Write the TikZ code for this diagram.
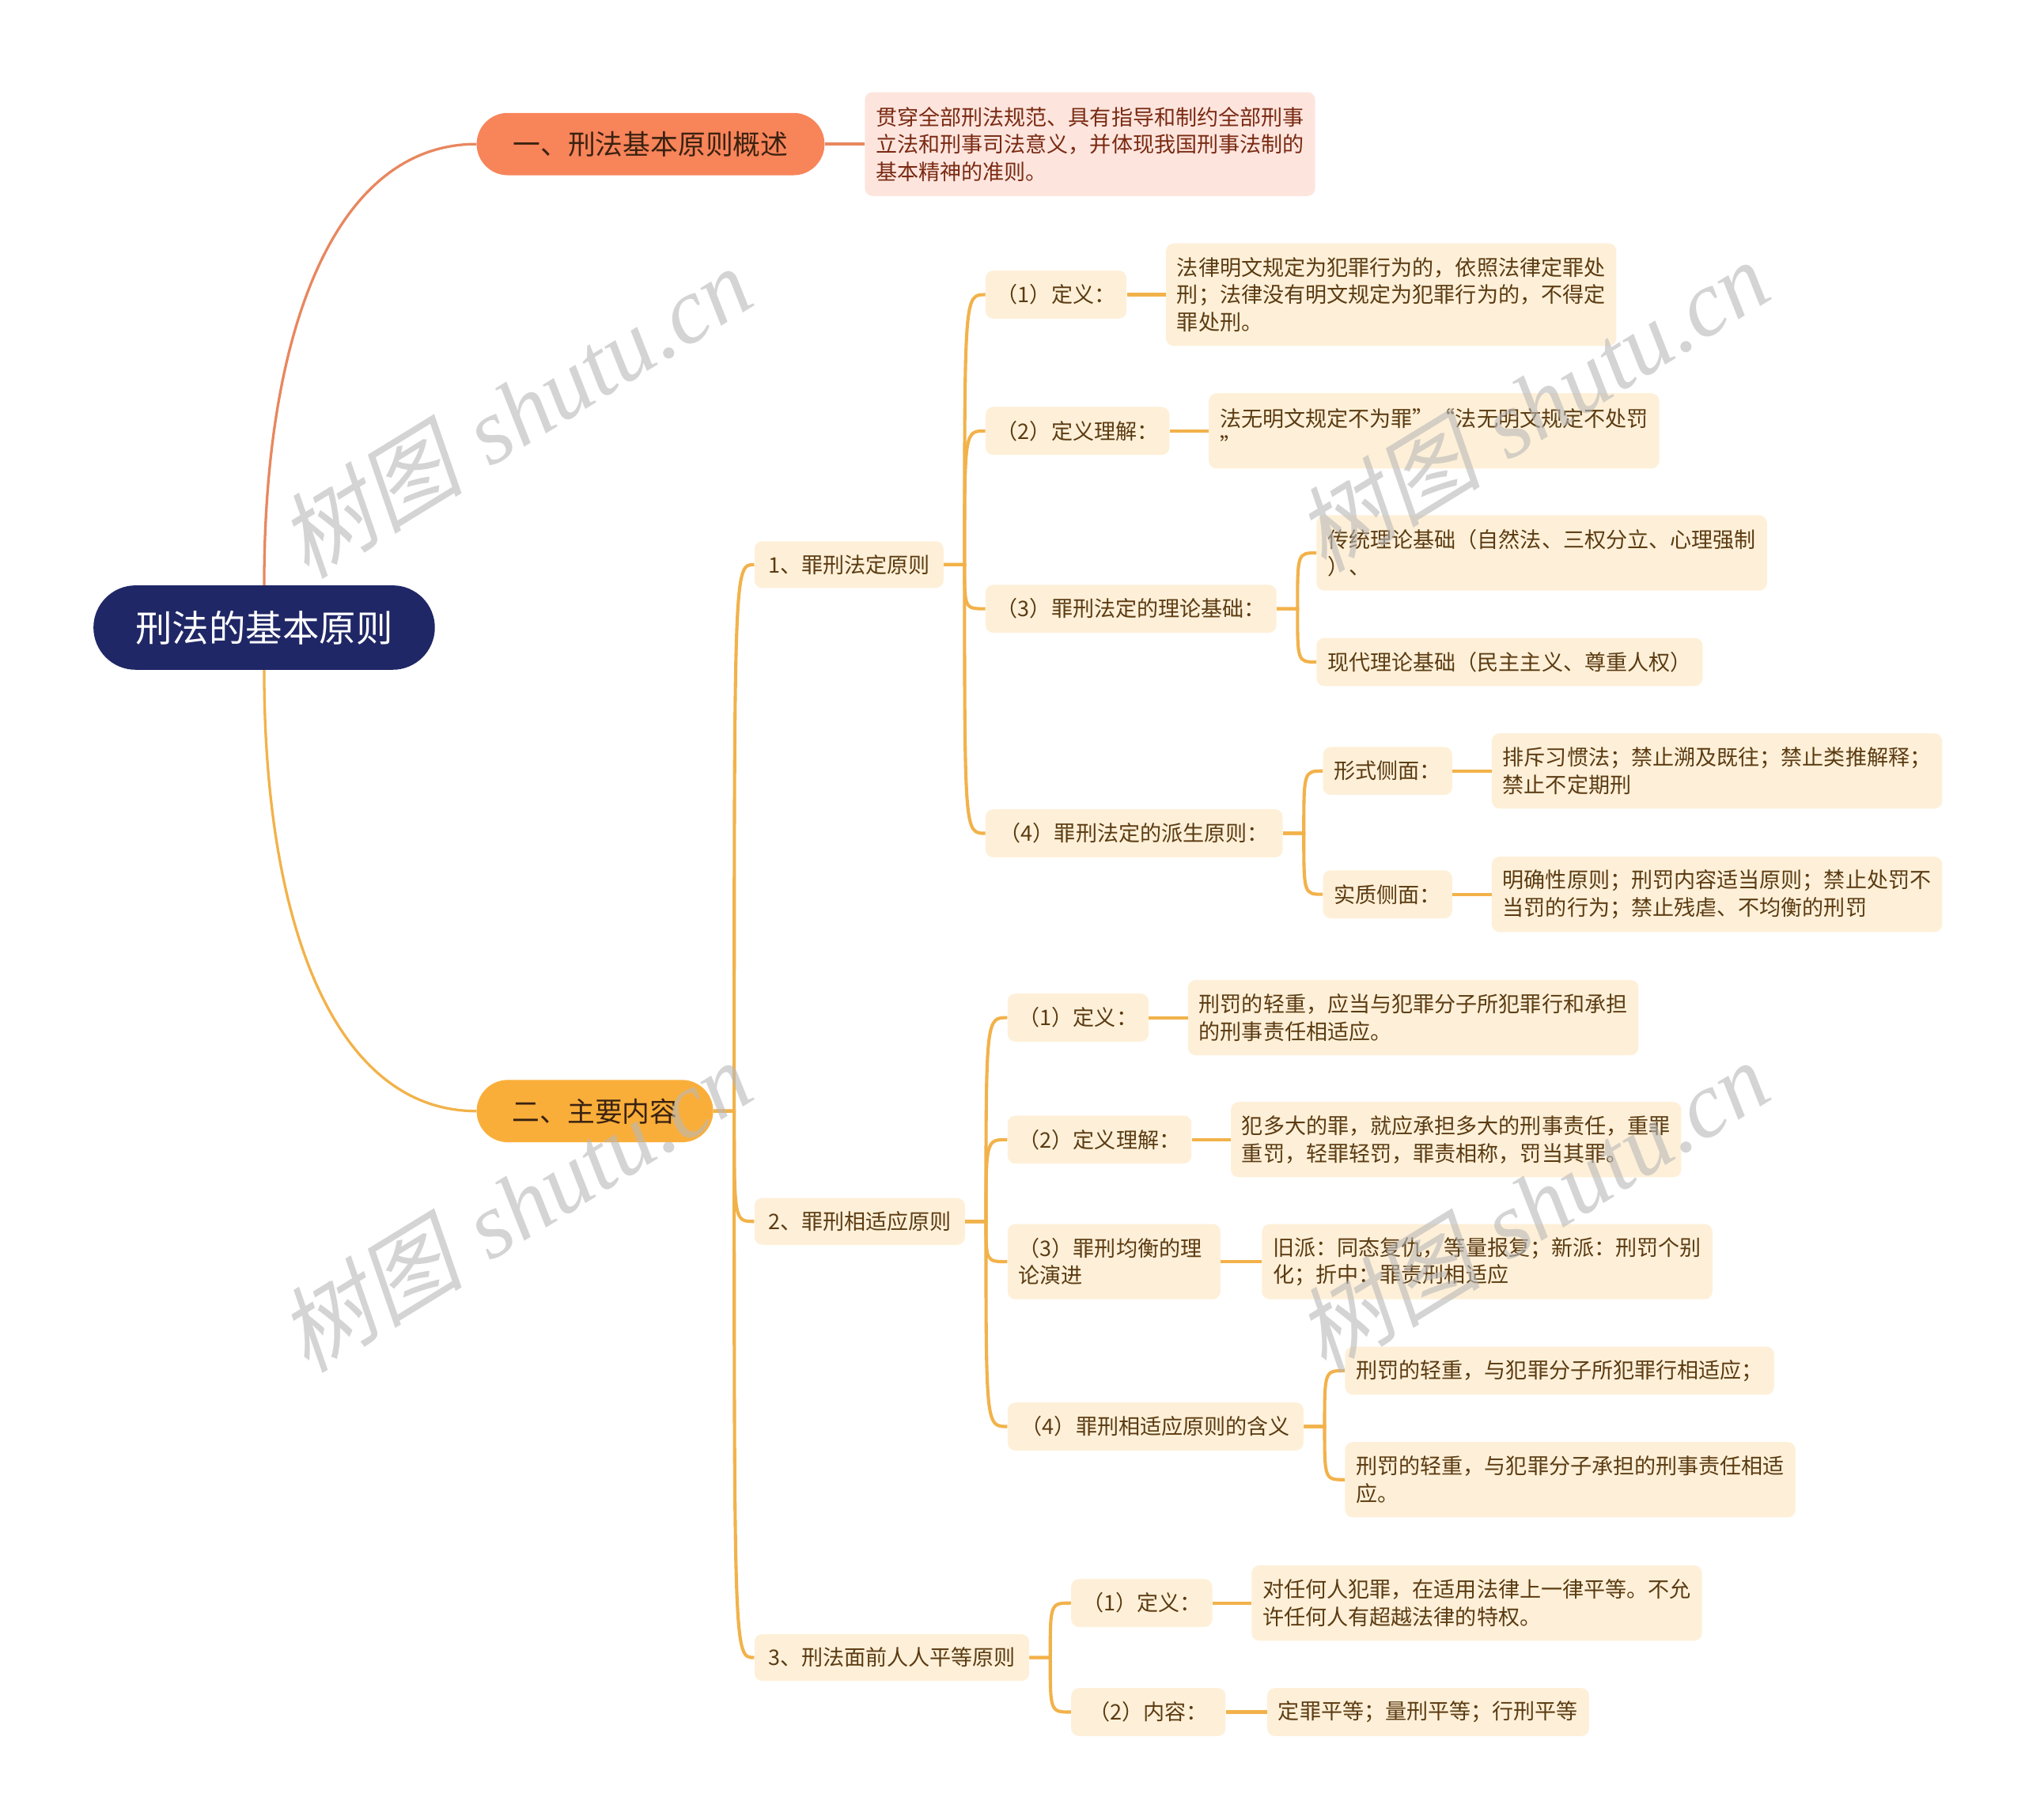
\documentclass[tikz,border=0pt]{standalone}
\usepackage{fontspec}
\setmainfont{Noto Sans CJK SC}
\newfontfamily\wmcjk{Noto Sans CJK SC}[FakeSlant=0.22]
\newfontfamily\wmlat{Liberation Serif}
\definecolor{rootc}{HTML}{202766}
\definecolor{bonec}{HTML}{F8845A}
\definecolor{bonel}{HTML}{E8875F}
\definecolor{pinkc}{HTML}{FDE5DE}
\definecolor{pinkt}{HTML}{7A2A12}
\definecolor{btwoc}{HTML}{FAAE3A}
\definecolor{darkt}{HTML}{3A2210}
\definecolor{cream}{HTML}{FEF0D8}
\definecolor{brownt}{HTML}{5B3B12}
\definecolor{linec}{HTML}{F2B24A}
\definecolor{wmgray}{HTML}{B8B8B8}
\newcommand\mmconn[2]{\draw[link] (#1.east) -- ++(16,0) coordinate (tmpj) .. controls (tmpj |- #2.west) .. (#2.west);}
\newcommand\mmleaf[2]{\draw[link] (#1.east) -- (#2.west);}
\tikzset{
  base/.style={rounded corners=6pt, inner xsep=8.5pt, inner ysep=3pt, align=left, anchor=west,
    font=\fontsize{16.5}{21}\selectfont},
  sub/.style={base, fill=cream, text=brownt, minimum height=37pt},
  two/.style={minimum height=58pt},
  three/.style={minimum height=79pt},
  wide/.style={text width=330pt},
  lvtwo/.style={sub, inner xsep=10.5pt, minimum height=36pt},
  link/.style={draw=linec, line width=2.5pt},
  wmark/.style={rotate=31.5, text=wmgray, opacity=0.6, inner sep=0pt},
}
\begin{document}
\begin{tikzpicture}[x=1pt, y=-1pt]
\useasboundingbox (0,0) rectangle (1560,1402);
\fill[white] (0,0) rectangle (1560,1402);

% root and main branches
\node[fill=rootc, text=white, rounded corners=32.5pt, minimum width=263pt, minimum height=65pt,
  inner sep=0pt, font=\fontsize{28.3}{32}\selectfont] (root) at (203.5,483.5) {刑法的基本原则};
\node[fill=bonec, text=darkt, rounded corners=24pt, minimum height=48pt, inner xsep=28pt, inner ysep=0pt,
  anchor=west, font=\fontsize{21.2}{24}\selectfont] (bone) at (367,111) {一、刑法基本原则概述};
\node[fill=btwoc, text=darkt, rounded corners=24pt, minimum height=48pt, inner xsep=27.5pt, inner ysep=0pt,
  anchor=west, font=\fontsize{21.2}{24}\selectfont] (btwo) at (367,856) {二、主要内容};
\node[base, fill=pinkc, text=pinkt, wide, minimum height=80pt] (desc) at (666,111)
  {贯穿全部刑法规范、具有指导和制约全部刑事\\立法和刑事司法意义，并体现我国刑事法制的\\基本精神的准则。};

% level 2
\node[lvtwo] (pone) at (581,435) {1、罪刑法定原则};
\node[lvtwo] (ptwo) at (581,941) {2、罪刑相适应原则};
\node[lvtwo] (pthree) at (581,1277) {3、刑法面前人人平等原则};

% under 1
\node[sub] (aone) at (759,227) {（1）定义：};
\node[sub] (atwo) at (759,332) {（2）定义理解：};
\node[sub] (athree) at (759,469) {（3）罪刑法定的理论基础：};
\node[sub, minimum width=229pt] (afour) at (759,642) {（4）罪刑法定的派生原则：};
\node[sub, wide, three] (aoneL) at (898,227)
  {法律明文规定为犯罪行为的，依照法律定罪处\\刑；法律没有明文规定为犯罪行为的，不得定\\罪处刑。};
\node[sub, wide, two] (atwoL) at (931,332)
  {\mbox{法无明文规定不为罪”“法无明文规定不处罚}\\”};
\node[sub, wide, two] (tone) at (1014,426)
  {传统理论基础（自然法、三权分立、心理强制\\）、};
\node[sub] (ttwo) at (1014,510) {现代理论基础（民主主义、尊重人权）};
\node[sub] (sone) at (1019,594) {形式侧面：};
\node[sub] (stwo) at (1019,689) {实质侧面：};
\node[sub, wide, two] (soneL) at (1149,594)
  {排斥习惯法；禁止溯及既往；禁止类推解释；\\禁止不定期刑};
\node[sub, wide, two] (stwoL) at (1149,689)
  {明确性原则；刑罚内容适当原则；禁止处罚不\\当罚的行为；禁止残虐、不均衡的刑罚};

% under 2
\node[sub] (bonen) at (776,784) {（1）定义：};
\node[sub] (btwon) at (776,878) {（2）定义理解：};
\node[sub, two, text width=147pt] (bthreen) at (776,972) {（3）罪刑均衡的理\\论演进};
\node[sub, minimum width=228pt] (bfourn) at (776,1099) {（4）罪刑相适应原则的含义};
\node[sub, wide, two] (bonenL) at (915,784)
  {刑罚的轻重，应当与犯罪分子所犯罪行和承担\\的刑事责任相适应。};
\node[sub, wide, two] (btwonL) at (948,878)
  {犯多大的罪，就应承担多大的刑事责任，重罪\\重罚，轻罪轻罚，罪责相称，罚当其罪。};
\node[sub, wide, two] (bthreenL) at (972,972)
  {旧派：同态复仇，等量报复；新派：刑罚个别\\化；折中：罪责刑相适应};
\node[sub] (mone) at (1036,1056) {刑罚的轻重，与犯罪分子所犯罪行相适应；};
\node[sub, wide, two] (mtwo) at (1036,1140)
  {刑罚的轻重，与犯罪分子承担的刑事责任相适\\应。};

% under 3
\node[sub] (cone) at (825,1235) {（1）定义：};
\node[sub, minimum width=119pt] (ctwo) at (825,1319) {（2）内容：};
\node[sub, wide, two] (coneL) at (964,1235)
  {对任何人犯罪，在适用法律上一律平等。不允\\许任何人有超越法律的特权。};
\node[sub] (ctwoL) at (976,1319) {定罪平等；量刑平等；行刑平等};

% main curves
\draw[draw=bonel, line width=2pt] (root.north) .. controls (203.5,250) and (260,111) .. (bone.west);
\draw[draw=linec, line width=2pt] (root.south) .. controls (203.5,717) and (260,856) .. (btwo.west);
\draw[draw=bonel, line width=2.2pt] (bone.east) -- (desc.west);

% connectors level 2
\mmconn{btwo}{pone}
\mmconn{btwo}{ptwo}
\mmconn{btwo}{pthree}
% under 1
\mmconn{pone}{aone}
\mmconn{pone}{atwo}
\mmconn{pone}{athree}
\mmconn{pone}{afour}
\mmleaf{aone}{aoneL}
\mmleaf{atwo}{atwoL}
\mmconn{athree}{tone}
\mmconn{athree}{ttwo}
\mmconn{afour}{sone}
\mmconn{afour}{stwo}
\mmleaf{sone}{soneL}
\mmleaf{stwo}{stwoL}
% under 2
\mmconn{ptwo}{bonen}
\mmconn{ptwo}{btwon}
\mmconn{ptwo}{bthreen}
\mmconn{ptwo}{bfourn}
\mmleaf{bonen}{bonenL}
\mmleaf{btwon}{btwonL}
\mmleaf{bthreen}{bthreenL}
\mmconn{bfourn}{mone}
\mmconn{bfourn}{mtwo}
% under 3
\mmconn{pthree}{cone}
\mmconn{pthree}{ctwo}
\mmleaf{cone}{coneL}
\mmleaf{ctwo}{ctwoL}

% watermarks
\foreach \wx/\wy [count=\wi] in {396/317, 1180/312, 396/929, 1180/929}{
  \node[wmark] (wm\wi) at (\wx,\wy) {\wmcjk\fontsize{72}{72}\selectfont 树图\hspace{0.3em}\wmlat\itshape shutu.cn};
}
\end{tikzpicture}
\end{document}
